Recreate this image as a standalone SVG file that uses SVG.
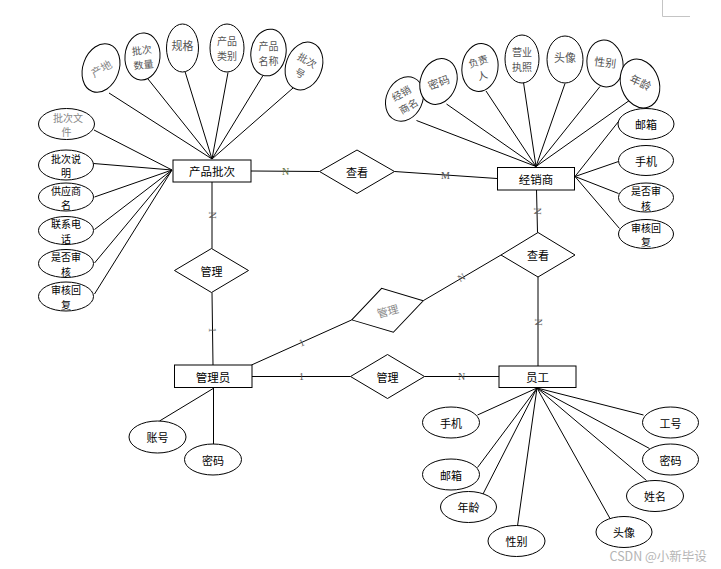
<svg xmlns="http://www.w3.org/2000/svg" width="721" height="569" viewBox="0 0 721 569">
<style>
.bg{fill:#fff}
.ent{fill:#fff;stroke:#000;stroke-width:1}
.rel{fill:#fff;stroke:#000;stroke-width:1}
.att{fill:#fff;stroke:#000;stroke-width:1}
.ln{stroke:#000;stroke-width:1;fill:none}
.t{font-family:"Noto Sans CJK SC","Noto Sans",sans-serif;font-size:11px;fill:#000;text-anchor:middle;dominant-baseline:central}
.s{font-size:10px}
.g{fill:#555}
.lg{fill:#888}
.e{font-size:11.5px}
.lab{font-family:"Liberation Serif",serif;font-size:10px;fill:#555;text-anchor:middle;dominant-baseline:central}
.wm{font-family:"Noto Sans CJK SC","Noto Sans",sans-serif;font-size:12.5px;fill:#b4b4b4}
</style>
<rect class="bg" x="0" y="0" width="721" height="569"/>
<path d="M662.5,0 V16.5 H690" stroke="#c4c4c4" stroke-width="1" fill="none"/>

<g id="connectors">
  <!-- 产品批次 attributes -->
  <line class="ln" x1="109" y1="93" x2="212" y2="159"/>
  <line class="ln" x1="148" y1="79" x2="212" y2="159"/>
  <line class="ln" x1="185" y1="71.5" x2="212" y2="159"/>
  <line class="ln" x1="228" y1="72.5" x2="212" y2="159"/>
  <line class="ln" x1="263" y1="75.5" x2="212" y2="159"/>
  <line class="ln" x1="293" y1="88" x2="212" y2="159"/>
  <line class="ln" x1="94" y1="130" x2="172" y2="170"/>
  <line class="ln" x1="93.5" y1="163.5" x2="172" y2="170"/>
  <line class="ln" x1="94.5" y1="197" x2="172" y2="170"/>
  <line class="ln" x1="94.5" y1="229.5" x2="172" y2="170"/>
  <line class="ln" x1="94.5" y1="263" x2="172" y2="170"/>
  <line class="ln" x1="94.5" y1="294" x2="172" y2="170"/>
  <!-- 经销商 attributes -->
  <line class="ln" x1="416.5" y1="120.5" x2="536" y2="166.5"/>
  <line class="ln" x1="446.5" y1="104" x2="536" y2="166.5"/>
  <line class="ln" x1="486" y1="91" x2="536" y2="166.5"/>
  <line class="ln" x1="523.5" y1="82.5" x2="536" y2="166.5"/>
  <line class="ln" x1="565" y1="83.5" x2="536" y2="166.5"/>
  <line class="ln" x1="600" y1="86.5" x2="536" y2="166.5"/>
  <line class="ln" x1="630" y1="100" x2="536" y2="166.5"/>
  <line class="ln" x1="618.5" y1="121.5" x2="575" y2="176.5"/>
  <line class="ln" x1="618.5" y1="161.5" x2="575" y2="176.5"/>
  <line class="ln" x1="618.5" y1="193.5" x2="575" y2="176.5"/>
  <line class="ln" x1="619.5" y1="228.5" x2="575" y2="176.5"/>
  <!-- 管理员 attributes -->
  <line class="ln" x1="159.5" y1="421" x2="214" y2="388"/>
  <line class="ln" x1="213.5" y1="388" x2="213.5" y2="444.5"/>
  <!-- 员工 attributes -->
  <line class="ln" x1="477.5" y1="415" x2="537" y2="388"/>
  <line class="ln" x1="477.5" y1="467.5" x2="537" y2="388"/>
  <line class="ln" x1="482.5" y1="495" x2="537" y2="388"/>
  <line class="ln" x1="517.5" y1="526" x2="537" y2="388"/>
  <line class="ln" x1="610" y1="518.5" x2="537" y2="388"/>
  <line class="ln" x1="646.5" y1="480.5" x2="537" y2="388"/>
  <line class="ln" x1="649.5" y1="448.5" x2="537" y2="388"/>
  <line class="ln" x1="643.5" y1="415" x2="537" y2="388"/>
  <!-- relationships -->
  <line class="ln" x1="251" y1="171" x2="319.5" y2="171.5"/>
  <line class="ln" x1="394.5" y1="171.5" x2="497" y2="178.5"/>
  <line class="ln" x1="212" y1="182" x2="212" y2="248.5"/>
  <line class="ln" x1="212" y1="292.5" x2="213" y2="365"/>
  <line class="ln" x1="536.5" y1="189.5" x2="537.5" y2="232.5"/>
  <line class="ln" x1="538" y1="277" x2="538" y2="366"/>
  <line class="ln" x1="501" y1="255" x2="423.5" y2="300.5"/>
  <line class="ln" x1="351.5" y1="320" x2="251.5" y2="365"/>
  <line class="ln" x1="252" y1="376.5" x2="350.5" y2="376.5"/>
  <line class="ln" x1="424.5" y1="376.5" x2="499" y2="376.5"/>
  <!-- cardinality labels -->
  <text class="lab" x="285.5" y="171" style="fill:#5d7040">N</text>
  <text class="lab" x="445.5" y="175">M</text>
  <text class="lab" transform="translate(212,215) rotate(90)">N</text>
  <text class="lab" transform="translate(212.5,330) rotate(90)">1</text>
  <text class="lab" transform="translate(537,211) rotate(90)">N</text>
  <text class="lab" transform="translate(538,322) rotate(90)">N</text>
  <text class="lab" transform="translate(461.5,277.5) rotate(-30)">N</text>
  <text class="lab" transform="translate(301.5,342.5) rotate(-24)">1</text>
  <text class="lab" x="301.5" y="376.5">1</text>
  <text class="lab" x="461.5" y="376.5">N</text>
</g>

<!-- Entities -->
<g id="e-chanpinpici"><rect class="ent" x="173" y="160" width="78" height="22"/><text class="t e" x="212" y="171">产品批次</text></g>
<g id="e-jingxiaoshang"><rect class="ent" x="497.5" y="167.5" width="77" height="22.5"/><text class="t e" x="536" y="178.5">经销商</text></g>
<g id="e-guanliyuan"><rect class="ent" x="174.5" y="365" width="77.5" height="22.5"/><text class="t e" x="213" y="376.5">管理员</text></g>
<g id="e-yuangong"><rect class="ent" x="499" y="366" width="77" height="21.5"/><text class="t e" x="537.5" y="376.5">员工</text></g>

<!-- Relationships -->
<g id="r-chakan1"><polygon class="rel" points="319.5,171.5 357,150 394.5,171.5 357,193.5"/><text class="t" x="357" y="171.5">查看</text></g>
<g id="r-guanli1"><polygon class="rel" points="174.5,270.5 211.5,248.5 248.5,270.5 211.5,292.5"/><text class="t" x="211.5" y="270.5">管理</text></g>
<g id="r-chakan2"><polygon class="rel" points="501,255 538,232.5 575,255 538,277"/><text class="t" x="538" y="255">查看</text></g>
<g id="r-guanli2" transform="translate(387.5,310.3) rotate(-15)"><polygon class="rel" points="-37,0 0,-22.7 37,0 0,22.7"/><text class="t lg" x="0" y="0">管理</text></g>
<g id="r-guanli3"><polygon class="rel" points="350.5,376.5 387.5,354.5 424.5,376.5 387.5,398.5"/><text class="t" x="387.5" y="376.5">管理</text></g>

<!-- 产品批次 attributes top -->
<g id="a-chandi" transform="translate(101,68) rotate(20)"><ellipse class="att" rx="18" ry="25"/><text class="t lg" transform="rotate(-50)">产地</text></g>
<g id="a-picishuliang" transform="translate(142.5,56.5) rotate(5)"><ellipse class="att" rx="17.5" ry="23.5"/><text class="t s g" transform="rotate(-12)"><tspan x="0" y="-7.5">批次</tspan><tspan x="0" y="7">数量</tspan></text></g>
<g id="a-guige" transform="translate(182.5,48)"><ellipse class="att" rx="16" ry="24"/><text class="t g" x="0" y="-3">规格</text></g>
<g id="a-chanpinleibie" transform="translate(227,48)"><ellipse class="att" rx="17" ry="24"/><text class="t s g"><tspan x="0" y="-8">产品</tspan><tspan x="0" y="6.5">类别</tspan></text></g>
<g id="a-chanpinmingcheng" transform="translate(268.5,52.5) rotate(10)"><ellipse class="att" rx="17.5" ry="23.5"/><text class="t s g" transform="rotate(-10)"><tspan x="0" y="-7.5">产品</tspan><tspan x="0" y="7">名称</tspan></text></g>
<g id="a-picihao" transform="translate(304,66) rotate(20)"><ellipse class="att" rx="18" ry="24.5"/><text class="t s g" transform="rotate(10)"><tspan x="0" y="-7.5">批次</tspan><tspan x="0" y="7">号</tspan></text></g>

<!-- 产品批次 attributes left -->
<g id="a-picwenjian"><ellipse class="att" cx="66.5" cy="124" rx="28" ry="15.5"/><text class="t s lg"><tspan x="68" y="116.5">批次文</tspan><tspan x="66.5" y="131">件</tspan></text></g>
<g id="a-picishuoming"><ellipse class="att" cx="66" cy="165" rx="27.5" ry="15"/><text class="t s"><tspan x="66" y="157.5">批次说</tspan><tspan x="66" y="172">明</tspan></text></g>
<g id="a-gongyingshang"><ellipse class="att" cx="66" cy="197" rx="27.5" ry="14"/><text class="t s"><tspan x="66" y="189.5">供应商</tspan><tspan x="66" y="204">名</tspan></text></g>
<g id="a-lianxidianhua"><ellipse class="att" cx="66" cy="230.5" rx="27.5" ry="14"/><text class="t s"><tspan x="66" y="223">联系电</tspan><tspan x="66" y="237.5">话</tspan></text></g>
<g id="a-shifoushenhe1"><ellipse class="att" cx="66" cy="263.5" rx="27.5" ry="14"/><text class="t s"><tspan x="66" y="256">是否审</tspan><tspan x="66" y="270.5">核</tspan></text></g>
<g id="a-shenhehuifu1"><ellipse class="att" cx="66" cy="296.5" rx="27.5" ry="14.5"/><text class="t s"><tspan x="66" y="289">审核回</tspan><tspan x="66" y="303.5">复</tspan></text></g>

<!-- 经销商 attributes top -->
<g id="a-jingxiaoshangming" transform="translate(404.5,99) rotate(25)"><ellipse class="att" rx="18" ry="23"/><text class="t s g" transform="rotate(-55)"><tspan x="0" y="-7.5">经销</tspan><tspan x="0" y="7">商名</tspan></text></g>
<g id="a-mima1" transform="translate(438.5,81.5) rotate(20)"><ellipse class="att" rx="18" ry="23.5"/><text class="t g" transform="rotate(-40)" x="0" y="0">密码</text></g>
<g id="a-fuzeren" transform="translate(480,67.5) rotate(8)"><ellipse class="att" rx="18" ry="24"/><text class="t s g" transform="rotate(-25)"><tspan x="0" y="-7.5">负责</tspan><tspan x="0" y="7">人</tspan></text></g>
<g id="a-yingyezhizhao" transform="translate(522,59)"><ellipse class="att" rx="17" ry="24"/><text class="t s g"><tspan x="0" y="-8">营业</tspan><tspan x="0" y="6.5">执照</tspan></text></g>
<g id="a-touxiang1" transform="translate(565,59.5)"><ellipse class="att" rx="18" ry="23.5"/><text class="t g" x="0" y="-3">头像</text></g>
<g id="a-xingbie1" transform="translate(605,63.5) rotate(-8)"><ellipse class="att" rx="18" ry="23.5"/><text class="t g" transform="rotate(15)" x="0" y="-2">性别</text></g>
<g id="a-nianling1" transform="translate(640,83.5) rotate(-20)"><ellipse class="att" rx="19" ry="25"/><text class="t g" transform="rotate(45)" x="0" y="-2">年龄</text></g>

<!-- 经销商 attributes right -->
<g id="a-youxiang1"><ellipse class="att" cx="646" cy="124" rx="28" ry="15.5"/><text class="t" x="646" y="124">邮箱</text></g>
<g id="a-shouji1"><ellipse class="att" cx="646" cy="160.5" rx="27.5" ry="15"/><text class="t" x="646" y="160.5">手机</text></g>
<g id="a-shifoushenhe2"><ellipse class="att" cx="646" cy="197.5" rx="27.5" ry="14.5"/><text class="t s"><tspan x="646" y="190">是否审</tspan><tspan x="646" y="204.5">核</tspan></text></g>
<g id="a-shenhehuifu2"><ellipse class="att" cx="646" cy="234" rx="27.5" ry="14.5"/><text class="t s"><tspan x="646" y="226.5">审核回</tspan><tspan x="646" y="241">复</tspan></text></g>

<!-- 管理员 attributes -->
<g id="a-zhanghao"><ellipse class="att" cx="157.5" cy="437" rx="28.5" ry="16"/><text class="t" x="157.5" y="437">账号</text></g>
<g id="a-mima2"><ellipse class="att" cx="213" cy="459.5" rx="28.5" ry="15.5"/><text class="t" x="213" y="459.5">密码</text></g>

<!-- 员工 attributes -->
<g id="a-shouji2"><ellipse class="att" cx="451" cy="422.5" rx="28.5" ry="15.5"/><text class="t" x="451" y="422.5">手机</text></g>
<g id="a-youxiang2"><ellipse class="att" cx="451" cy="474.5" rx="28.5" ry="15.5"/><text class="t" x="451" y="474.5">邮箱</text></g>
<g id="a-nianling2"><ellipse class="att" cx="468.5" cy="507" rx="28" ry="15.5"/><text class="t" x="468.5" y="507">年龄</text></g>
<g id="a-xingbie2"><ellipse class="att" cx="516.5" cy="541" rx="28.5" ry="15.5"/><text class="t" x="516.5" y="541">性别</text></g>
<g id="a-touxiang2"><ellipse class="att" cx="624" cy="532" rx="28" ry="15.5"/><text class="t" x="624" y="532">头像</text></g>
<g id="a-xingming"><ellipse class="att" cx="655" cy="496" rx="28.5" ry="15.5"/><text class="t" x="655" y="496">姓名</text></g>
<g id="a-mima3"><ellipse class="att" cx="670.5" cy="459.5" rx="28" ry="15.5"/><text class="t" x="670.5" y="459.5">密码</text></g>
<g id="a-gonghao"><ellipse class="att" cx="670.5" cy="422.5" rx="28" ry="15.5"/><text class="t" x="670.5" y="422.5">工号</text></g>

<text class="wm" x="609.5" y="561">CSDN @小新毕设</text>
</svg>
